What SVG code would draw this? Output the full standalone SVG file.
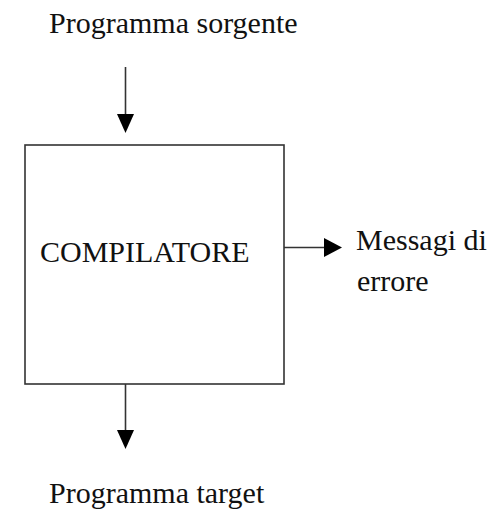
<svg xmlns="http://www.w3.org/2000/svg" width="502" height="511" viewBox="0 0 502 511">
  <defs>
    <style>
      .box { fill: #fff; stroke: #333; stroke-width: 1.6; }
      .conn { stroke: #333; stroke-width: 1.6; fill: none; }
      .head { fill: #000; }
    </style>
  </defs>
  <rect width="502" height="511" fill="#fff"/>

  <g font-family="'Liberation Serif', 'DejaVu Serif', serif" font-size="30" fill="#111">
    <g id="sorgente">
      <text x="49" y="33">Programma sorgente</text>
    </g>

    <g id="compilatore">
      <rect class="box" x="25" y="145" width="259" height="239"/>
      <text x="40" y="262">COMPILATORE</text>
    </g>

    <g id="messaggi">
      <text x="356" y="250">Messagi di</text>
      <text x="357" y="291">errore</text>
    </g>

    <g id="target">
      <text x="49" y="503">Programma target</text>
    </g>
  </g>

  <g id="connectors">
    <!-- input arrow -->
    <line class="conn" x1="125.5" y1="67" x2="125.5" y2="116"/>
    <polygon class="head" points="117,114 134,114 125.5,133"/>
    <!-- output arrow -->
    <line class="conn" x1="125.5" y1="384" x2="125.5" y2="432"/>
    <polygon class="head" points="117,430 134,430 125.5,449"/>
    <!-- error messages arrow -->
    <line class="conn" x1="284" y1="247.5" x2="326" y2="247.5"/>
    <polygon class="head" points="324,238 324,257 342,247.5"/>
  </g>
</svg>
